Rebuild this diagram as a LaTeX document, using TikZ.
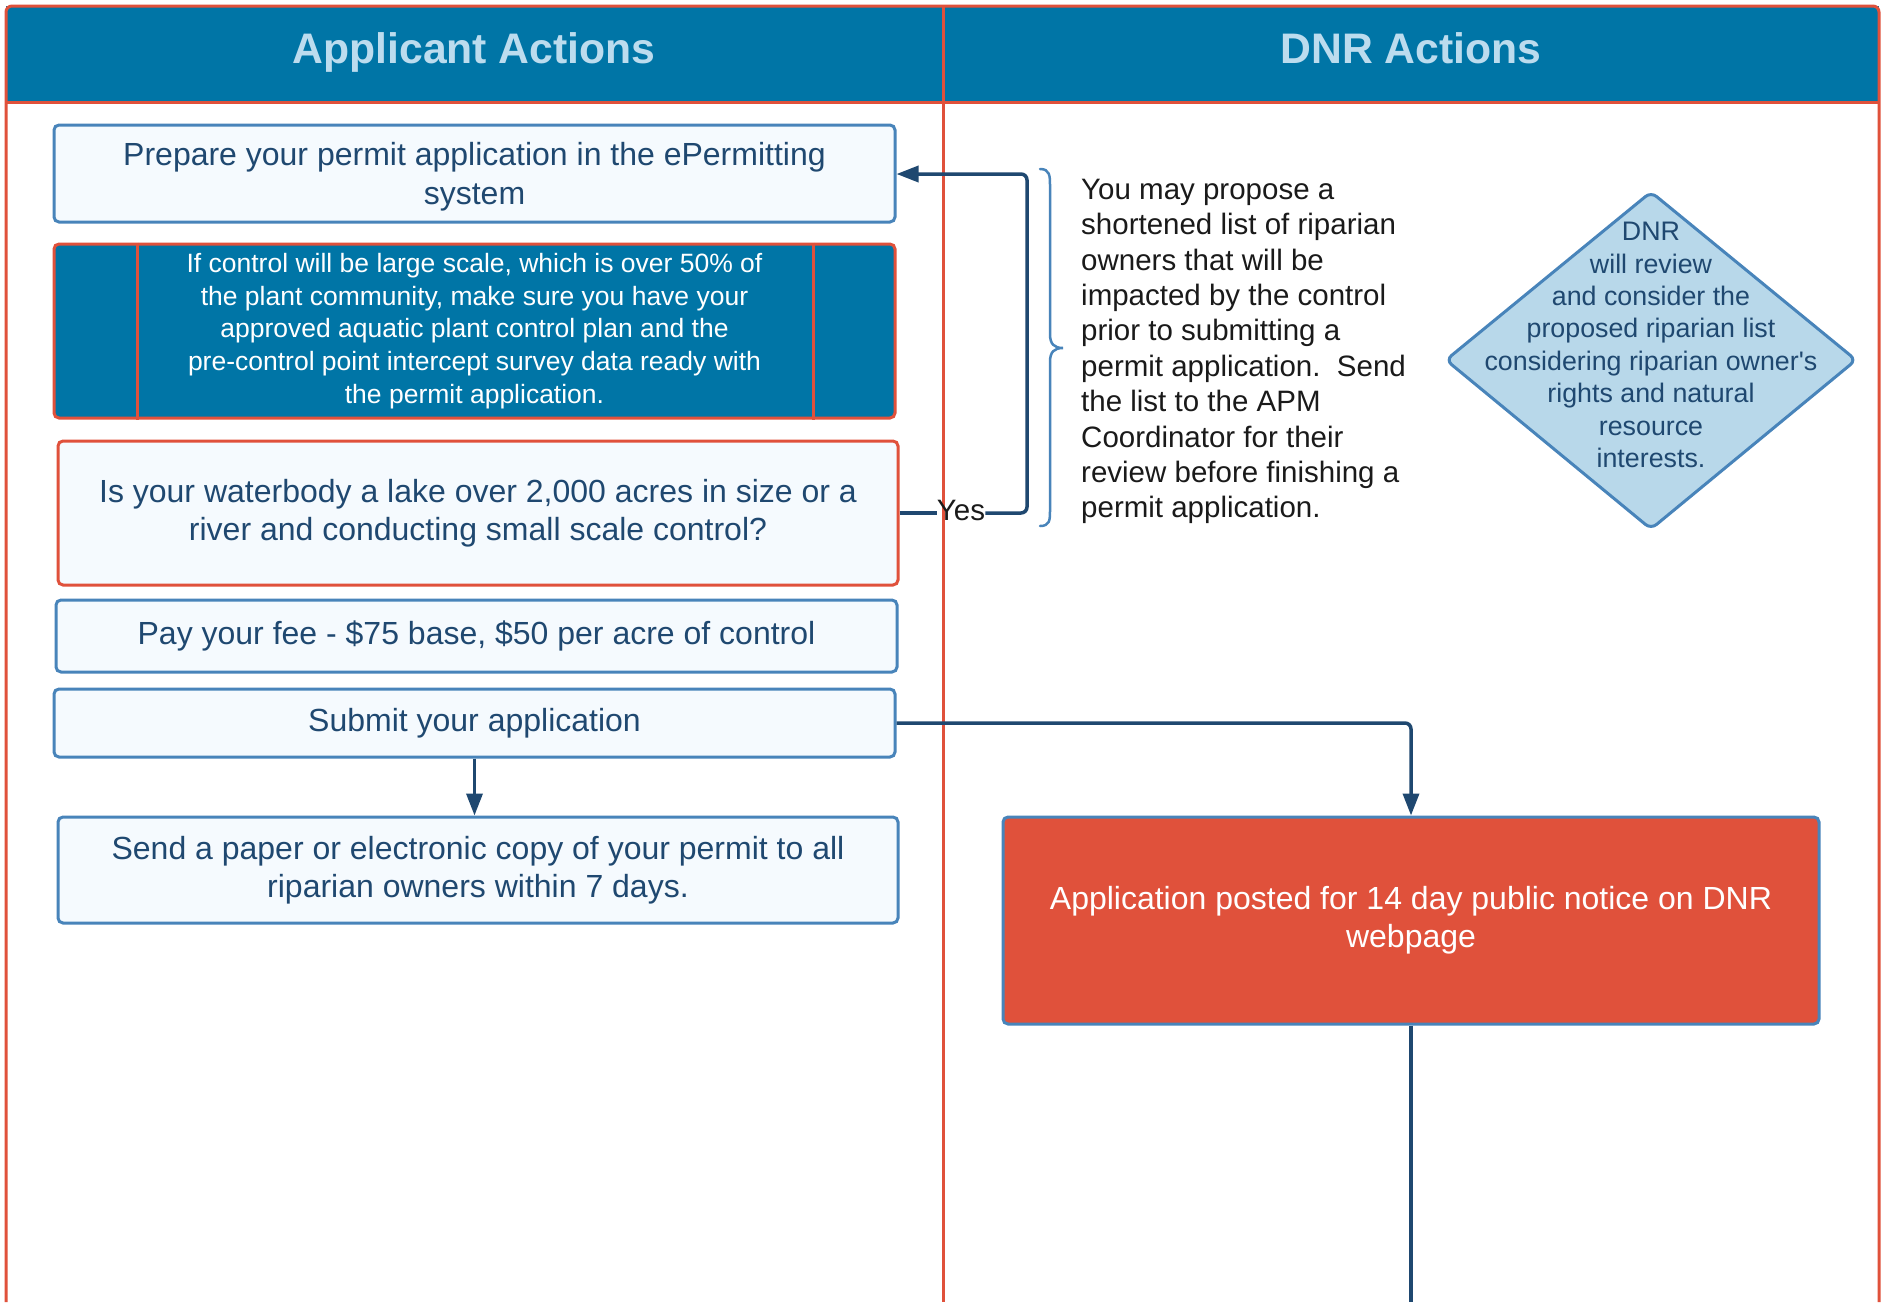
\documentclass[tikz,border=0pt]{standalone}
\usepackage{fontspec}
\setmainfont{Liberation Sans}
\usetikzlibrary{arrows.meta}
\definecolor{hdrblue}{RGB}{0,117,166}
\definecolor{lanered}{RGB}{224,81,59}
\definecolor{edgeblue}{RGB}{72,132,186}
\definecolor{darkblue}{RGB}{31,72,112}
\definecolor{paleblue}{RGB}{245,250,254}
\definecolor{diafill}{RGB}{184,216,234}
\definecolor{hdrtext}{RGB}{188,220,238}
\definecolor{notetext}{RGB}{26,26,26}
\begin{document}
\begin{tikzpicture}[x=1pt,y=-1pt,
  laneline/.style={draw=lanered,line width=3pt},
  procbox/.style={draw=edgeblue,fill=paleblue,line width=3pt,rounded corners=5pt,
    text=darkblue,align=center,inner sep=0pt,font=\fontsize{32}{38.4}\selectfont},
  hdrlabel/.style={text=hdrtext,font=\fontsize{42.7}{50}\selectfont\bfseries,inner sep=0pt,anchor=base},
  flow/.style={draw=darkblue,line width=3.5pt,rounded corners=6pt},
  flowarrow/.style={flow,-{Triangle[length=22pt,width=16pt]}}]
\useasboundingbox (0,0) rectangle (1883,1302);
\fill[white] (0,0) rectangle (1883,1302);
% header
\fill[hdrblue] (6,6) rectangle (1879,102);
\node[hdrlabel] (hApp) at (474,63.5) {Applicant Actions};
\node[hdrlabel] (hDnr) at (1411,63.5) {DNR Actions};
% lanes
\draw[laneline,rounded corners=6pt] (6,1302) -- (6,6) -- (1879,6) -- (1879,1302);
\draw[laneline] (6,102) -- (1879,102);
\draw[laneline] (943,6) -- (943,1302);
% applicant boxes
\node[procbox,minimum width=841pt,minimum height=97pt] (prep) at (474.5,173.5)
  {\rule{0pt}{30pt}Prepare your permit application in the ePermitting\\system};
\node[procbox,draw=lanered,fill=hdrblue,text=white,minimum width=841pt,minimum height=174pt,
  font=\fontsize{26.5}{32.7}\selectfont] (large) at (474.5,331)
  {If control will be large scale, which is over 50\% of\\the plant community, make sure you have your\\approved aquatic plant control plan and the\\pre-control point intercept survey data ready with\\the permit application.};
\draw[laneline] ([xshift=85pt]large.north west) -- ([xshift=85pt]large.south west);
\draw[laneline] ([xshift=-83pt]large.north east) -- ([xshift=-83pt]large.south east);
\node[procbox,draw=lanered,minimum width=840pt,minimum height=144pt] (quest) at (478,513)
  {Is your waterbody a lake over 2,000 acres in size or a\\river and conducting small scale control?};
\node[procbox,minimum width=841pt,minimum height=72pt] (pay) at (476.5,636)
  {Pay your fee - \$75 base, \$50 per acre of control};
\node[procbox,minimum width=841pt,minimum height=68pt] (submit) at (474.5,723)
  {Submit your application};
\node[procbox,minimum width=840pt,minimum height=106pt] (send) at (478,870)
  {Send a paper or electronic copy of your permit to all\\riparian owners within 7 days.};
% DNR side
\node[procbox,fill=lanered,text=white,minimum width=816pt,minimum height=207pt] (posted) at (1411,920.5)
  {Application posted for 14 day public notice on DNR\\webpage};
\node[align=left,anchor=west,inner sep=0pt,text=notetext,font=\fontsize{29.5}{35.4}\selectfont] (note) at (1081,351.6)
  {You may propose a\\shortened list of riparian\\owners that will be\\impacted by the control\\prior to submitting a\\permit application.\ \ Send\\the list to the APM\\Coordinator for their\\review before finishing a\\permit application.};
\draw[draw=edgeblue,line width=2.5pt,line cap=round]
  (1040,169) .. controls (1050,169) and (1050,176) .. (1050,186)
  -- (1050,334) .. controls (1050,344) and (1054,348) .. (1063,348)
  .. controls (1054,348) and (1050,352) .. (1050,362)
  -- (1050,510) .. controls (1050,520) and (1050,526) .. (1040,526);
\draw[draw=edgeblue,fill=diafill,line width=3pt,rounded corners=7pt]
  (1651,192) -- (1856,360) -- (1651,529) -- (1446,360) -- cycle;
\node[align=center,inner sep=0pt,text=darkblue,font=\fontsize{26.8}{32.4}\selectfont] (dnrtxt) at (1651,345)
  {DNR\\will review\\and consider the\\proposed riparian list\\considering riparian owner\textquotesingle s\\rights and natural\\resource\\interests.};
% connectors
\node[inner sep=0pt,text=notetext,font=\fontsize{29.5}{35}\selectfont] (yes) at (961,510) {Yes};
\coordinate (loopc) at (1027,174);
\draw[flow] (quest.east) -- (quest.east -| yes.west);
\draw[flowarrow] (quest.east -| yes.east) -- (quest.east -| loopc) -- (loopc) -- (prep.east |- loopc);
\draw[flowarrow] (submit.south) -- (submit.south |- send.north);
\draw[flowarrow] (submit.east) -| (posted.north);
\coordinate (bottomend) at (1411,1302);
\draw[flow] (posted.south) -- (bottomend);
\end{tikzpicture}
\end{document}
